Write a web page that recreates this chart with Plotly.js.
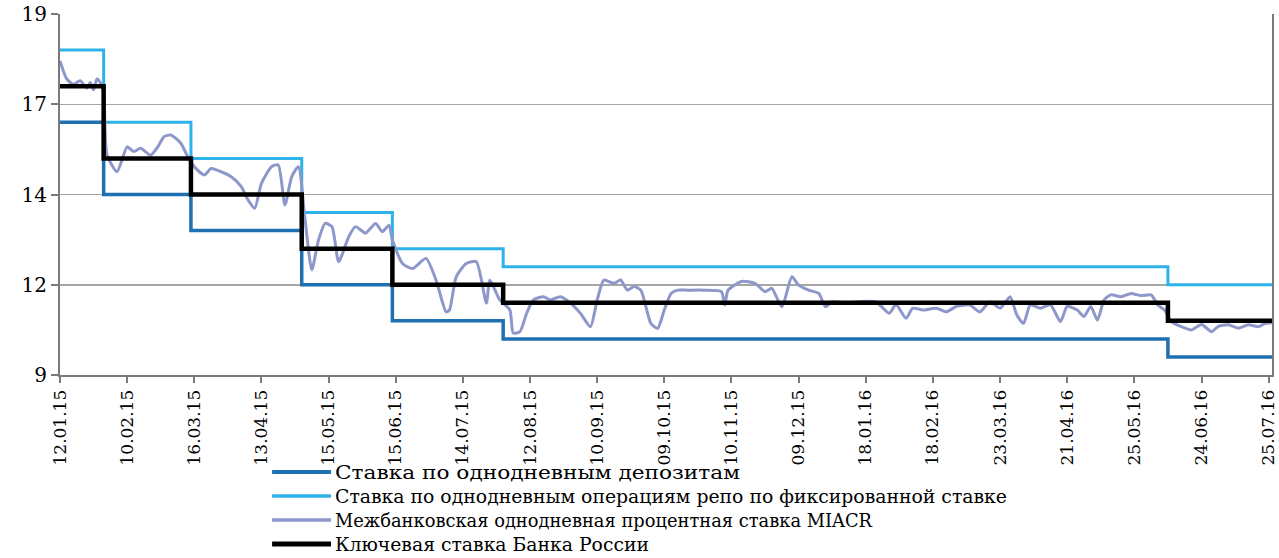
<!DOCTYPE html>
<html>
<head>
<meta charset="utf-8">
<script src="https://cdn.plot.ly/plotly-3.0.1.min.js"></script>
<style>html,body{margin:0;padding:0;background:#fff;}#chart{width:1279px;height:558px;}</style>
</head>
<body>
<div id="chart"></div>
<script>
// x tick labels (one every 20 trading days)
const tickLabels = ["12.01.15","10.02.15","16.03.15","13.04.15","15.05.15","15.06.15","14.07.15","12.08.15","10.09.15","09.10.15","10.11.15","09.12.15","18.01.16","18.02.16","23.03.16","21.04.16","25.05.16","24.06.16","25.07.16"];
const yTickVals = [9, 11.5, 14, 16.5, 19];
const yTickText = ["9", "12", "14", "17", "19"];

// Policy-rate steps (trading-day index where each level starts, value)
const stepIdx = [0, 13, 39, 72, 99, 132, 330, 361];
const keyRate = [17, 15, 14, 12.5, 11.5, 11, 10.5, 10.5];
const depositRate = [16, 14, 13, 11.5, 10.5, 10, 9.5, 9.5];
const repoRate = [18, 16, 15, 13.5, 12.5, 12, 11.5, 11.5];

// MIACR (trading-day index, value)
const miacrIdx = [0,2,4,6,8,9,10,11,12,13,14,17,20,22,24,27,29,31,33,36,38,40,43,45,48,51,54,56,58,60,63,65,67,69,71,73,75,77,79,81,83,86,88,91,94,96,98,99,102,105,109,112,115,116,118,121,124,127,128,130,131,134,135,137,139,141,144,146,149,152,155,158,160,162,165,167,169,171,173,176,178,180,182,184,187,192,197,198,199,203,207,210,212,215,218,220,223,226,228,230,234,238,243,247,249,252,254,257,261,264,267,271,274,277,280,283,285,287,289,292,295,298,300,303,305,307,309,311,313,316,319,322,325,327,329,331,334,337,340,343,345,348,351,354,357,359,361];
const miacr = [17.7,17.2,17.05,17.15,16.95,17.1,16.9,17.2,17.1,16.8,15.1,14.63,15.32,15.19,15.28,15.09,15.3,15.6,15.65,15.42,15.05,14.77,14.54,14.72,14.63,14.49,14.22,13.85,13.62,14.31,14.77,14.82,13.71,14.49,14.77,13.3,11.91,12.74,13.2,13.11,12.14,12.83,13.11,12.93,13.2,12.97,13.15,12.74,12.09,11.95,12.23,11.63,10.75,10.8,11.72,12.09,12.14,10.99,11.63,11.26,11.08,10.8,10.16,10.2,10.71,11.08,11.17,11.08,11.17,11.0,10.71,10.34,11.08,11.63,11.54,11.63,11.35,11.45,11.35,10.43,10.29,10.8,11.26,11.35,11.35,11.35,11.31,10.94,11.35,11.59,11.54,11.31,11.4,10.89,11.72,11.49,11.35,11.26,10.89,11.03,11.0,11.03,11.03,10.71,10.95,10.57,10.85,10.8,10.85,10.75,10.9,10.94,10.75,11.03,10.85,11.17,10.66,10.43,10.94,10.85,10.94,10.48,10.9,10.8,10.62,10.9,10.52,11.08,11.22,11.17,11.26,11.2,11.22,10.94,10.8,10.48,10.34,10.25,10.4,10.2,10.35,10.39,10.3,10.39,10.34,10.43,10.45];

const names = ["Ставка по однодневным депозитам",
  "Ставка по однодневным операциям репо по фиксированной ставке",
  "Межбанковская однодневная процентная ставка MIACR",
  "Ключевая ставка Банка России"];

// ---- styling ----
const FONT = "DejaVu Serif, Liberation Serif, serif";
const colors = ["#1f70b0", "#2db3ea", "#8e97c9", "#000000"];
const widths = [3.5, 3, 3, 4.5];
const legendRowsY = [-0.2687, -0.3352, -0.4017, -0.4681];   // paper coords
const legendTextWidths = [405, 672, 537, 314];              // px, as in reference

const tickVals = tickLabels.map((_, i) => i * 20);

const traces = [
  {x: stepIdx, y: depositRate, name: names[0], mode: "lines", line: {shape: "hv", color: colors[0], width: widths[0]}},
  {x: stepIdx, y: repoRate, name: names[1], mode: "lines", line: {shape: "hv", color: colors[1], width: widths[1]}},
  {x: miacrIdx, y: miacr, name: names[2], mode: "lines", line: {shape: "spline", smoothing: 0.6, color: colors[2], width: widths[2]}},
  {x: stepIdx, y: keyRate, name: names[3], mode: "lines", line: {shape: "hv", color: colors[3], width: widths[3]}}
];

const shapes = names.map((n, i) => ({
  type: "line", xref: "paper", yref: "paper", x0: 0.175, x1: 0.2236,
  y0: legendRowsY[i], y1: legendRowsY[i], line: {color: colors[i], width: widths[i] + 0.5}
}));
const annotations = names.map((n, i) => ({
  xref: "paper", yref: "paper", x: 0.2252, y: legendRowsY[i], xanchor: "left", yanchor: "middle",
  align: "left", text: n, showarrow: false, font: {family: FONT, size: 19, color: "#000"}
}));

const layout = {
  width: 1279, height: 558,
  margin: {l: 60, r: 7, t: 14, b: 183},
  paper_bgcolor: "#ffffff", plot_bgcolor: "#ffffff",
  font: {family: FONT, color: "#000", size: 18},
  showlegend: false,
  shapes: shapes,
  annotations: annotations,
  xaxis: {range: [0, 361], tickmode: "array", tickvals: tickVals, ticktext: tickLabels, automargin: false,
          tickangle: -90, tickfont: {family: FONT, size: 17, color: "#000"},
          showgrid: false, zeroline: false, showline: true, linecolor: "#7a7a7a", linewidth: 2,
          ticks: "outside", ticklen: 6, tickcolor: "#7a7a7a", tickwidth: 2},
  yaxis: {range: [9, 19], tickmode: "array", tickvals: yTickVals, ticktext: yTickText, automargin: false,
          tickfont: {family: FONT, size: 20, color: "#000"},
          showgrid: true, gridcolor: "#a6a6a6", gridwidth: 1.5, zeroline: false,
          showline: true, linecolor: "#7a7a7a", linewidth: 2, mirror: true,
          ticks: "outside", ticklen: 7, tickcolor: "#7a7a7a", tickwidth: 2}
};

Plotly.newPlot("chart", traces, layout, {staticPlot: true}).then(function (gd) {
  gd.querySelectorAll(".annotation-text").forEach(function (t, i) {
    if (legendTextWidths[i]) {
      t.setAttribute("text-anchor", "start");
      t.setAttribute("textLength", legendTextWidths[i]);
      t.setAttribute("lengthAdjust", "spacingAndGlyphs");
    }
  });
});
</script>
</body>
</html>
